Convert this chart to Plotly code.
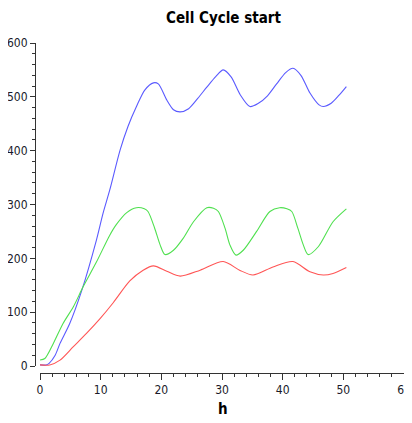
import plotly.graph_objects as go

# time (h) and level for each curve
blue_t = [0, 1, 1.5, 2.5, 3.3, 4.9, 6.9, 9.3, 10.4, 11.5, 13.2, 14.5, 15.9, 17.3, 18.7,
          19.5, 20.9, 22, 23.1, 24.5, 26, 27.5, 29, 30.2, 31.5, 33, 34.6, 36, 37.5, 39,
          40.5, 41.7, 43, 44.5, 46, 46.7, 48, 49.3, 50.5]
blue_v = [2, 2, 5, 20, 42, 79, 141, 234, 284, 327, 401, 445, 482, 513, 526,
          524, 494, 476, 472, 478, 497, 518, 538, 550, 537, 504, 482, 488, 502, 524,
          545, 553, 540, 507, 485, 482, 488, 503, 519]

green_t = [0, 0.8, 2.2, 3.8, 5.5, 7.1, 9.3, 11.5, 12.6, 14.3, 15.9, 17.2, 17.8, 18.9,
           19.8, 20.6, 22, 23.6, 25.3, 27.5, 28.6, 29.4, 30.5, 31.3, 32.3, 33.5, 35.7,
           37.9, 39.5, 40.7, 41.5, 42.5, 43.4, 44.2, 45.9, 48.3, 50.5]
green_v = [11, 14, 42, 79, 110, 147, 193, 243, 263, 285, 294, 292, 287, 256,
           225, 207, 215, 237, 268, 294, 293, 287, 256, 225, 206, 215, 250,
           287, 294, 292, 287, 256, 225, 207, 222, 268, 292]

red_t = [0, 1.6, 3.3, 5.5, 7.7, 9.9, 12.1, 14.8, 17, 18.7, 20.9, 23.1, 26.4, 30.2,
         32.9, 35.1, 38.4, 41.7, 44.5, 46.7, 48.3, 50.5]
red_v = [2, 2, 11, 36, 61, 88, 118, 158, 178, 186, 176, 167, 178, 194,
         178, 169, 184, 194, 175, 169, 172, 183]

# the page body adds an 8px offset, so the figure is drawn 8px smaller
OFF = 8
W, H = 412 - OFF, 423 - OFF
ML, MR, MT = 35 - OFF, 8, 43 - OFF
MB = H - (373 - OFF)
pw, ph = W - ML - MR, H - MT - MB

fig = go.Figure()
for t, v, c in [(blue_t, blue_v, "#5a5aff"), (green_t, green_v, "#4fe04f"),
                (red_t, red_v, "#ff5555")]:
    fig.add_trace(go.Scatter(x=t, y=v, mode="lines",
                             line=dict(color=c, width=1.1, shape="spline", smoothing=0.8),
                             hoverinfo="skip"))

tickfont = dict(family="DejaVu Sans Condensed, Liberation Sans Narrow, Liberation Sans, sans-serif",
                size=12, color="#1a1a2a")
boldfont = dict(family="DejaVu Sans Condensed, DejaVu Sans, sans-serif", size=15, color="black")

fig.update_layout(
    width=W, height=H,
    margin=dict(l=ML, r=MR, t=MT, b=MB, autoexpand=False),
    plot_bgcolor="white", paper_bgcolor="white",
    showlegend=False,
    xaxis=dict(range=[0, 60], domain=[5 / pw, 1], anchor="free", position=0, automargin=False,
               showline=True, linecolor="#333", linewidth=1, showgrid=False, zeroline=False,
               ticks="outside", ticklen=6, tickcolor="#333", dtick=10, tickfont=tickfont,
               ticklabeloverflow="allow",
               minor=dict(ticks="outside", ticklen=3, tickcolor="#333", dtick=2)),
    yaxis=dict(range=[0, 600], domain=[7 / ph, 1], anchor="free", position=0, automargin=False,
               showline=True, linecolor="#333", linewidth=1, showgrid=False, zeroline=False,
               ticks="outside", ticklen=5, tickcolor="#333", dtick=100, tickfont=tickfont,
               ticklabeloverflow="allow",
               minor=dict(ticks="outside", ticklen=3, tickcolor="#333", dtick=20)),
)

fig.add_annotation(text="<b>Cell Cycle start</b>", xref="paper", yref="paper",
                   x=(223 - OFF - ML) / pw, y=(H - MB - (18 - OFF)) / ph,
                   xanchor="center", yanchor="middle", showarrow=False, font=boldfont)
fig.add_annotation(text="<b>h</b>", xref="paper", yref="paper",
                   x=(223 - OFF - ML) / pw, y=(H - MB - (409 - OFF)) / ph,
                   xanchor="center", yanchor="middle", showarrow=False, font=boldfont)

fig.write_html("out.html")
